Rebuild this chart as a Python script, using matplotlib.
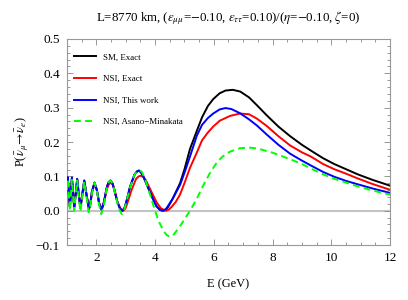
import matplotlib
matplotlib.use("Agg")
import matplotlib.pyplot as plt
from matplotlib.ticker import MultipleLocator

plt.rcParams['font.family'] = ['Liberation Serif', 'DejaVu Serif']
plt.rcParams['mathtext.fontset'] = 'stix'

# ---- data ----
E_sm = [1.00, 1.03, 1.065, 1.10, 1.135, 1.17, 1.21, 1.25, 1.30, 1.35, 1.40, 1.46, 1.52, 1.59,
        1.67, 1.75, 1.80, 1.85, 1.94, 2.02, 2.10, 2.18, 2.26, 2.35, 2.41, 2.48, 2.55, 2.60, 2.72, 2.81, 2.89,
        2.96, 3.02, 3.15, 3.30, 3.38, 3.45, 3.52, 3.60, 3.75, 3.90, 4.05, 4.18, 4.28, 4.37, 4.45, 4.60, 4.85, 5.00,
        5.19, 5.42, 5.60, 5.80, 5.98, 6.20, 6.40, 6.65, 6.90, 7.20, 7.47, 7.80, 8.20, 8.60,
        9.00, 9.40, 9.72, 10.10, 10.50, 10.90, 11.40, 12.00]
P_sm = [0.070, 0.095, 0.050, 0.012, 0.050, 0.095, 0.050, 0.010, 0.050, 0.092, 0.050, 0.008, 0.045, 0.088,
        0.045, 0.005, 0.022, 0.055, 0.082, 0.060, 0.020, 0.003, 0.025, 0.065, 0.082, 0.088, 0.080, 0.065, 0.025, 0.006, 0.000,
        0.008, 0.025, 0.070, 0.105, 0.114, 0.117, 0.112, 0.100, 0.070, 0.040, 0.013, 0.002, 0.000, 0.004, 0.012, 0.035, 0.080, 0.120,
        0.180, 0.232, 0.272, 0.305, 0.325, 0.342, 0.350, 0.352, 0.347, 0.330, 0.307, 0.278, 0.245, 0.217,
        0.192, 0.170, 0.153, 0.136, 0.121, 0.106, 0.090, 0.073]

E_nsi = [1.00, 1.03, 1.065, 1.10, 1.135, 1.17, 1.21, 1.25, 1.30, 1.35, 1.40, 1.46, 1.52, 1.59,
         1.67, 1.75, 1.80, 1.85, 1.94, 2.02, 2.10, 2.18, 2.26, 2.35, 2.42, 2.49, 2.56, 2.62, 2.72, 2.83, 2.92,
         2.99, 3.05, 3.20, 3.35, 3.44, 3.52, 3.60, 3.68, 3.85, 4.05, 4.20, 4.37, 4.46, 4.55, 4.70, 4.85, 5.00, 5.19, 5.42,
         5.60, 5.80, 5.98, 6.20, 6.55, 6.89, 7.20, 7.47, 7.80, 8.20, 8.60, 9.00, 9.30, 9.72, 10.10,
         10.50, 10.90, 11.40, 12.00]
P_nsi = [0.068, 0.093, 0.050, 0.012, 0.050, 0.093, 0.050, 0.010, 0.050, 0.090, 0.050, 0.008, 0.045, 0.086,
         0.045, 0.005, 0.020, 0.052, 0.078, 0.060, 0.022, 0.003, 0.022, 0.060, 0.076, 0.082, 0.076, 0.062, 0.025, 0.006, 0.000,
         0.006, 0.020, 0.060, 0.092, 0.100, 0.102, 0.098, 0.090, 0.060, 0.025, 0.007, 0.000, 0.003, 0.010, 0.025, 0.047, 0.080, 0.125, 0.169,
         0.205, 0.228, 0.245, 0.262, 0.276, 0.283, 0.281, 0.268, 0.247, 0.217, 0.190, 0.170, 0.158, 0.136, 0.121,
         0.108, 0.094, 0.078, 0.061]

E_tw = [1.00, 1.03, 1.065, 1.10, 1.135, 1.17, 1.21, 1.25, 1.30, 1.35, 1.40, 1.46, 1.52, 1.59,
        1.67, 1.75, 1.80, 1.85, 1.94, 2.02, 2.10, 2.18, 2.26, 2.35, 2.41, 2.48, 2.55, 2.60, 2.72, 2.81, 2.89,
        2.96, 3.02, 3.15, 3.30, 3.38, 3.45, 3.52, 3.60, 3.75, 3.90, 4.05, 4.18, 4.28, 4.37, 4.45, 4.60, 4.85, 5.00,
        5.19, 5.42, 5.60, 5.80, 5.98, 6.20, 6.40, 6.60, 6.89, 7.20, 7.47, 7.80, 8.20, 8.60,
        9.00, 9.30, 9.72, 10.10, 10.50, 10.90, 11.40, 12.00]
P_tw = [0.072, 0.098, 0.052, 0.012, 0.052, 0.097, 0.052, 0.010, 0.050, 0.093, 0.050, 0.008, 0.045, 0.088,
        0.045, 0.005, 0.022, 0.055, 0.082, 0.060, 0.020, 0.003, 0.025, 0.065, 0.082, 0.088, 0.080, 0.065, 0.025, 0.006, 0.000,
        0.008, 0.025, 0.070, 0.105, 0.114, 0.117, 0.112, 0.100, 0.070, 0.040, 0.013, 0.002, 0.000, 0.005, 0.015, 0.035, 0.075, 0.110,
        0.158, 0.218, 0.250, 0.270, 0.283, 0.295, 0.299, 0.296, 0.284, 0.266, 0.248, 0.222, 0.192, 0.166,
        0.146, 0.132, 0.113, 0.099, 0.087, 0.077, 0.065, 0.052]

E_am = [1.00, 1.03, 1.065, 1.10, 1.135, 1.17, 1.21, 1.25, 1.30, 1.35, 1.40, 1.46, 1.52, 1.59,
        1.67, 1.74, 1.80, 1.85, 1.94, 2.02, 2.10, 2.17, 2.26, 2.35, 2.41, 2.48, 2.55, 2.60, 2.72, 2.80, 2.87,
        2.94, 3.00, 3.15, 3.30, 3.40, 3.48, 3.56, 3.65, 3.80, 3.92, 4.02, 4.15, 4.30, 4.40, 4.48, 4.56, 4.65, 4.85, 5.00,
        5.19, 5.42, 5.65, 5.87, 6.10, 6.30, 6.55, 6.89, 7.20, 7.50, 8.00, 8.60, 9.00, 9.30,
        9.72, 10.10, 10.50, 10.90, 11.40, 12.00]
P_am = [0.060, 0.090, 0.045, 0.000, 0.045, 0.090, 0.045, 0.000, 0.045, 0.088, 0.045, -0.003, 0.040, 0.085,
        0.040, -0.005, 0.015, 0.050, 0.082, 0.058, 0.015, -0.010, 0.018, 0.062, 0.082, 0.088, 0.080, 0.065, 0.022, 0.000, -0.010,
        -0.002, 0.018, 0.068, 0.105, 0.115, 0.118, 0.112, 0.095, 0.055, 0.022, -0.005, -0.035, -0.060, -0.071, -0.075, -0.074, -0.068, -0.045, -0.025,
        0.000, 0.035, 0.075, 0.110, 0.140, 0.158, 0.172, 0.182, 0.184, 0.181, 0.169, 0.150, 0.136, 0.123,
        0.106, 0.093, 0.082, 0.071, 0.059, 0.047]

labels = ["SM, Exact", "NSI, Exact", "NSI, This work", "NSI, Asano\u2212Minakata"]
colors = ["black", "#ff0000", "#0000ff", "#00ff00"]

x_ticks = [2, 4, 6, 8, 10, 12]
y_ticks = [-0.1, 0.0, 0.1, 0.2, 0.3, 0.4, 0.5]
y_ticklabels = ["\u22120.1", "0.0", "0.1", "0.2", "0.3", "0.4", "0.5"]

# ---- figure ----
fig = plt.figure(figsize=(4.08, 3.0), dpi=100)
ax = fig.add_axes([0.164, 0.183, 0.792, 0.687])

ax.axhline(0.0, color="#c4c4c4", lw=1.5, zorder=1)
ax.plot(E_sm, P_sm, color=colors[0], lw=1.4, label=labels[0], zorder=3)
ax.plot(E_nsi, P_nsi, color=colors[1], lw=1.4, label=labels[1], zorder=3)
ax.plot(E_tw, P_tw, color=colors[2], lw=1.4, label=labels[2], zorder=4)
ax.plot(E_am, P_am, color=colors[3], lw=1.4, ls=(0, (3.5, 2.2)), label=labels[3], zorder=5)

ax.set_xlim(1, 12)
ax.set_ylim(-0.1, 0.5)
ax.set_xticks(x_ticks)
ax.set_yticks(y_ticks)
ax.set_yticklabels(y_ticklabels)
ax.xaxis.set_minor_locator(MultipleLocator(0.5))
ax.yaxis.set_minor_locator(MultipleLocator(0.02))
ax.tick_params(which="both", direction="in", top=True, right=True,
               colors="#888888", labelcolor="black", labelsize=9.5, width=0.6)
ax.tick_params(which="major", length=4, pad=5)
ax.tick_params(which="minor", length=2)
for s in ax.spines.values():
    s.set_color("#999999")
    s.set_linewidth(0.8)

ax.set_xlabel("E (GeV)", fontsize=9, labelpad=10)
ax.set_ylabel(r"P($\bar{\nu}_\mu\!\rightarrow\!\bar{\nu}_e$)", fontsize=9, labelpad=4)
ax.set_title(r"L=8770 km, ($\epsilon_{\mu\mu}$=$-$0.10, $\epsilon_{\tau\tau}$=0.10)/($\eta$=$-$0.10, $\zeta$=0)",
             fontsize=9.3, pad=13)

leg = ax.legend(loc="upper left", frameon=False, fontsize=6.4, handlelength=2.5,
                handletextpad=0.75, labelspacing=1.5, borderaxespad=0.4,
                bbox_to_anchor=(0.0, 0.965))

fig.savefig("out.png", dpi=100)
